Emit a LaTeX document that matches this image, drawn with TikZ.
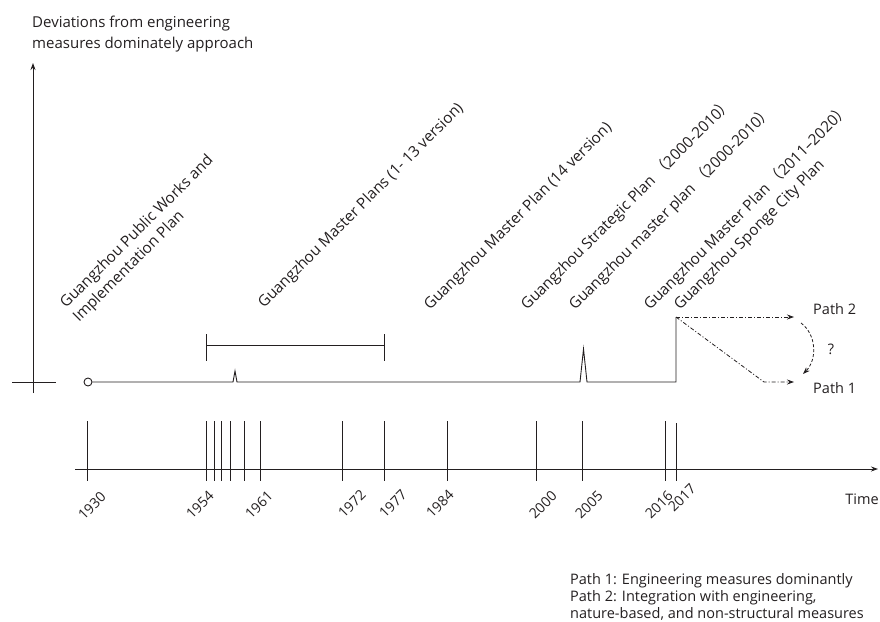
\documentclass[tikz,border=0pt]{standalone}
\usepackage{fontspec}
\setmainfont{Open Sans}
\newfontfamily\cjk{Noto Sans CJK SC}
\usetikzlibrary{arrows.meta}
\definecolor{ink}{RGB}{35,31,32}
\begin{document}
\begin{tikzpicture}[x=1pt,y=-1pt,
  line/.style={line width=0.9pt, draw=ink},
  lbl/.style={font=\fontsize{14.5}{17}\selectfont, inner sep=0pt, text=ink},
  plan/.style={font=\fontsize{15.3}{18}\selectfont, inner sep=0pt, text=ink, rotate=45, anchor=base west},
  year/.style={font=\fontsize{14}{15}\selectfont, rotate=45, inner sep=0pt, text=ink},
  tip/.style={-{Stealth[length=7pt,width=5pt]}},
  dd/.style={line width=0.8pt, draw=ink, dash pattern=on 4pt off 2pt on 1pt off 2pt, tip},
  tickln/.style={line width=0.9pt, draw=ink}
]
\useasboundingbox (0,0) rectangle (880,621);
% vertical axis
\coordinate (yb) at (33,393);
\coordinate (yt) at (33,63);
\draw[line, tip] (yb) -- (yt);
\coordinate (hl) at (12,382);
\coordinate (hr) at (56,382);
\draw[line] (hl) -- (hr);
\node[lbl, anchor=north west, align=left, font=\fontsize{15}{21}\selectfont] (title) at (32,16) {Deviations from engineering\\measures dominately approach};

% trajectory
\node[circle, line, draw, minimum size=8pt, inner sep=0pt] (o) at (88,382) {};
\coordinate (s1a) at (233,382);
\coordinate (s1t) at (235,371);
\coordinate (s1b) at (237,382);
\coordinate (s2a) at (580,382);
\coordinate (s2t) at (583.5,349);
\coordinate (s2b) at (587,382);
\coordinate (st) at (676,382);
\coordinate (sp) at (676,317);
\draw[line] (o.east) -- (s1a) -- (s1t) -- (s1b) -- (s2a) -- (s2t) -- (s2b) -- (st) -- (sp);

% paths
\coordinate (p2) at (794,317);
\coordinate (k) at (764,382);
\coordinate (p1) at (794,382);
\draw[dd] (sp) -- (p2);
\draw[dd] (sp) -- (k) -- (p1);
\node[lbl, anchor=west] (path2) at (813,309) {Path 2};
\node[lbl, anchor=west] (path1) at (813,388) {Path 1};
\coordinate (c1) at (801,323);
\coordinate (c2) at (803,374);
\draw[line width=0.8pt, draw=ink, dash pattern=on 3pt off 2pt, tip] (c1) .. controls (817,335) and (817,360) .. (c2);
\node[lbl] (q) at (831,349) {?};

% bracket
\coordinate (b1) at (206,345);
\coordinate (b2) at (384,345);
\coordinate (b1t) at (206,334);
\coordinate (b1b) at (206,361);
\coordinate (b2t) at (384,334);
\coordinate (b2b) at (384,361);
\draw[line] (b1) -- (b2);
\draw[line] (b1t) -- (b1b);
\draw[line] (b2t) -- (b2b);

% time axis
\coordinate (t0) at (75,469);
\coordinate (t1) at (878,469);
\draw[line, tip] (t0) -- (t1);
\foreach \x in {87,206,214,221,230,244,260,342,384,447,536,582,665}{
  \draw[tickln] (\x,421) -- (\x,481);
}
\draw[tickln] (676,423) -- (676,481);
\node[year] (y1930) at (92,506) {1930};
\node[year] (y1954) at (200,505) {1954};
\node[year] (y1961) at (259,505) {1961};
\node[year] (y1972) at (352,504) {1972};
\node[year] (y1977) at (393,504) {1977};
\node[year] (y1984) at (440,504) {1984};
\node[year] (y2000) at (543,505) {2000};
\node[year] (y2005) at (589,505) {2005};
\node[year] (y2016) at (659,505) {2016};
\node[year] (y2017) at (682,498) {2017};
\node[lbl] (time) at (862,499) {Time};

% plan labels
\node[plan] (pw1) at (66,309) {Guangzhou Public Works and};
\node[plan] (pw2) at (79,323) {Implementation Plan};
\node[plan] (mp13) at (264,309) {Guangzhou Master Plans (1- 13 version)};
\node[plan] (mp14) at (430,311) {Guangzhou Master Plan (14 version)};
\node[plan] (sp2000) at (527,311) {Guangzhou Strategic Plan {\cjk （}2000-2010{\cjk ）}};
\node[plan] (mp2000) at (575,311) {Guangzhou master plan {\cjk （}2000-2010{\cjk ）}};
\node[plan] (mp2011) at (650,311) {Guangzhou Master Plan {\cjk （}2011--2020{\cjk ）}};
\node[plan] (spc) at (680,311) {Guangzhou Sponge City Plan};

% legend
\node[lbl, anchor=north west, align=left] (legend) at (570,573) {Path 1: Engineering measures dominantly\\Path 2: Integration with engineering,\\nature-based, and non-structural measures};
\end{tikzpicture}
\end{document}
